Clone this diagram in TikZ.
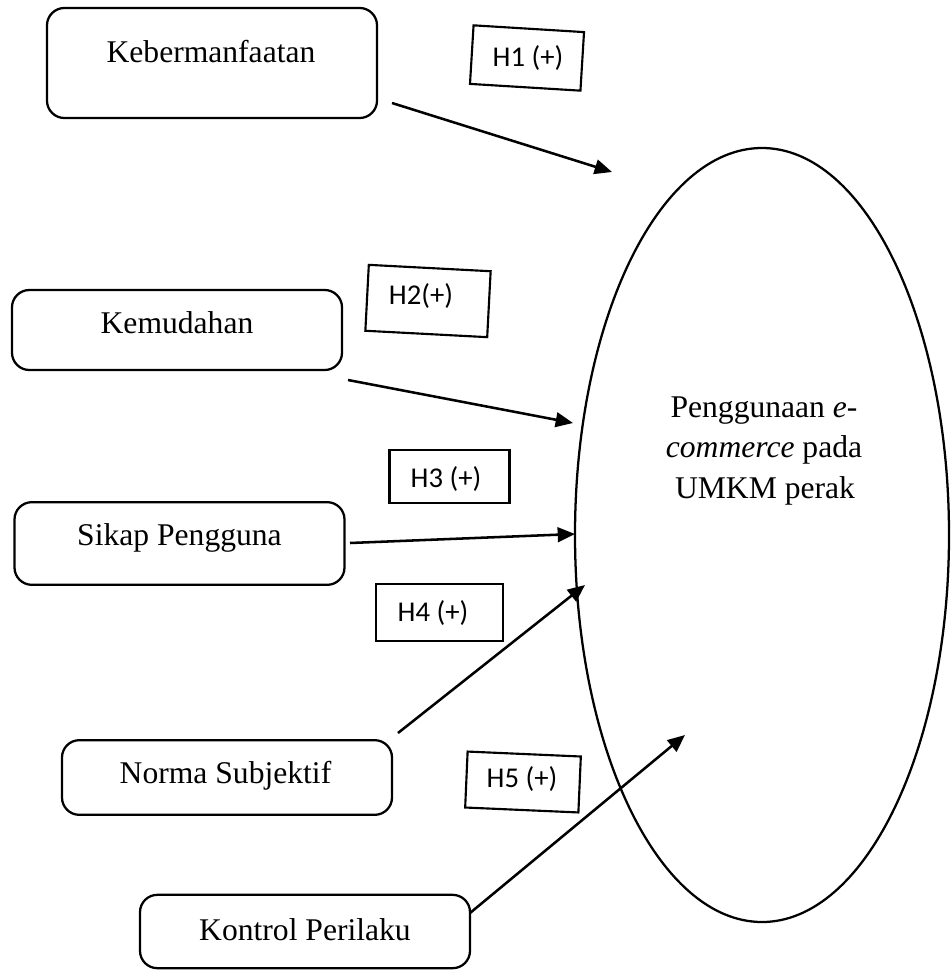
\documentclass[tikz,border=0pt]{standalone}
\usepackage{fontspec}
\setmainfont{Liberation Serif}
\newfontfamily\labfont{Carlito}
\usetikzlibrary{arrows.meta,shapes.geometric}
\begin{document}
\begin{tikzpicture}[x=0.75pt,y=-0.75pt,
  varbox/.style={draw, line width=1.7pt, rounded corners=13pt, inner sep=0pt, minimum width=247.5pt},
  vartxt/.style={anchor=base, inner sep=0pt, font=\fontsize{23.7}{30}\selectfont},
  hbox/.style={draw, line width=1.6pt, inner sep=0pt},
  htxt/.style={inner sep=0pt, text height=13.7pt, text depth=0pt, font=\labfont\fontsize{21.5}{25}\selectfont},
  arr/.style={line width=1.9pt, -{Triangle[length=13pt,width=11pt]}}
]
\useasboundingbox (0,0) rectangle (951,970);

% variable boxes
\node[varbox, minimum height=82.5pt] (keb) at (212,63) {};
\node[vartxt] (kebt) at (211,63) {Kebermanfaatan};
\node[varbox, minimum height=60pt] (kem) at (177,330) {};
\node[vartxt] (kemt) at (177,333) {Kemudahan};
\node[varbox, minimum height=62pt] (sik) at (179.5,543.5) {};
\node[vartxt] (sikt) at (179.5,545) {Sikap Pengguna};
\node[varbox, minimum height=56pt] (nor) at (227,777.5) {};
\node[vartxt] (nort) at (225.5,783) {Norma Subjektif};
\node[varbox, minimum height=55pt] (kon) at (305,931.5) {};
\node[vartxt] (kont) at (305,940) {Kontrol Perilaku};

% ellipse
\node[draw, ellipse, line width=1.7pt, inner sep=0pt, minimum width=280.5pt, minimum height=580.5pt] (ell) at (762,535) {};
\node[vartxt] (el1) at (764,417) {Penggunaan \textit{e}-};
\node[vartxt] (el2) at (764,457) {\textit{commerce} pada};
\node[vartxt] (el3) at (765,498) {UMKM perak};

% hypothesis labels
\node[hbox, rotate=-3.5, minimum width=83pt, minimum height=44pt] (h1) at (527,58) {};
\node[htxt] (h1t) at (528,57.5) {H1 (+)};
\node[hbox, rotate=-3, minimum width=91.5pt, minimum height=49.5pt] (h2) at (428,301) {};
\node[htxt] (h2t) at (421,295.5) {H2(+)};
\node[hbox, minimum width=90pt, minimum height=40pt] (h3) at (449.5,476.5) {};
\node[htxt] (h3t) at (446,478.5) {H3 (+)};
\node[hbox, minimum width=95pt, minimum height=43pt] (h4) at (439.5,612.5) {};
\node[htxt] (h4t) at (433,612.5) {H4 (+)};
\node[hbox, rotate=-2.5, minimum width=85pt, minimum height=42pt] (h5) at (523,782) {};
\node[htxt] (h5t) at (522,778.5) {H5 (+)};

% arrow end points
\coordinate (a1s) at (392,103); \coordinate (a1e) at (612,172);
\coordinate (a2s) at (348,380); \coordinate (a2e) at (573,423);
\coordinate (a3s) at (350,543); \coordinate (a3e) at (575,534);
\coordinate (a4s) at (398,733); \coordinate (a4e) at (585,585);
\coordinate (a5s) at (470,913); \coordinate (a5e) at (685,735);

\draw[arr] (a1s) -- (a1e);
\draw[arr] (a2s) -- (a2e);
\draw[arr] (a3s) -- (a3e);
\draw[arr] (a4s) -- (a4e);
\draw[arr] (a5s) -- (a5e);
\end{tikzpicture}
\end{document}
